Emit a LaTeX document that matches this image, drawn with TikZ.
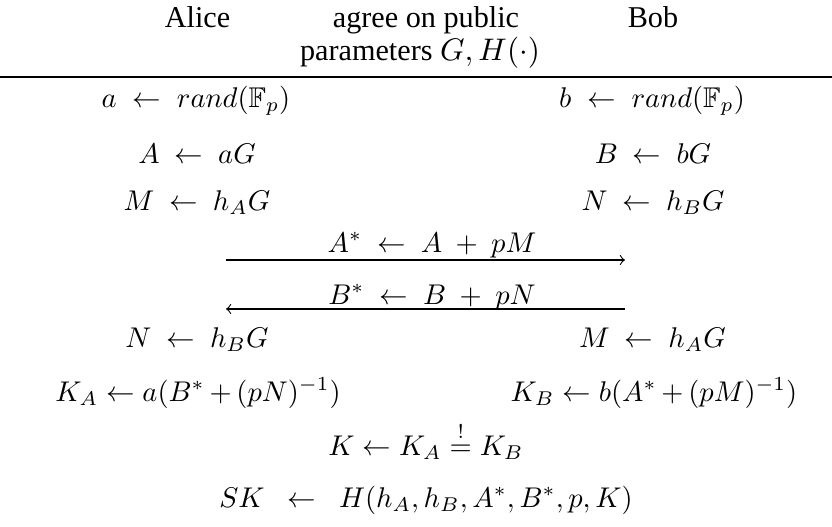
\documentclass[tikz,border=0pt]{standalone}
\usepackage{amsmath,amssymb}
\usepackage{fontspec}
\setmainfont{Liberation Serif}
\begin{document}
\begin{tikzpicture}[x=0.3509pt,y=-0.3509pt,
  lbl/.style={anchor=base,inner sep=0pt,outer sep=0pt},
  headtxt/.style={lbl,font=\fontsize{10.6pt}{12.7pt}\selectfont},
  msg/.style={line width=0.4pt,->},
  headrule/.style={line width=0.7pt}]
\useasboundingbox (0,0) rectangle (832,526);
% header
\node[headtxt] (alice) at (197.5,27) {Alice};
\node[headtxt] (bob) at (653,27) {Bob};
\node[headtxt] (agree) at (426,27) {agree on public};
\node[headtxt] (params) at (420,60) {parameters $G, H(\cdot)$};
\coordinate (rl) at (0,77);
\coordinate (rr) at (832,77);
\draw[headrule] (rl) -- (rr);
% Alice column
\node[lbl] (a1) at (196,107) {$a \;\leftarrow\; rand(\mathbb{F}_p)$};
\node[lbl] (a2) at (197,163) {$A \ \leftarrow\ aG$};
\node[lbl] (a3) at (197,210) {$M \ \leftarrow\ h_AG$};
\node[lbl] (a4) at (197,347) {$N \ \leftarrow\ h_BG$};
\node[lbl] (a5) at (198,401) {$K_A \leftarrow a(B^*\,{+}\,(pN)^{-1})$};
% Bob column
\node[lbl] (b1) at (652,107) {$b \;\leftarrow\; rand(\mathbb{F}_p)$};
\node[lbl] (b2) at (653,163) {$B \ \leftarrow\ bG$};
\node[lbl] (b3) at (653,210) {$N \ \leftarrow\ h_BG$};
\node[lbl] (b4) at (652.5,347) {$M \ \leftarrow\ h_AG$};
\node[lbl] (b5) at (654,401) {$K_B \leftarrow b(A^*\,{+}\,(pM)^{-1})$};
% messages
\coordinate (m1s) at (226,260);
\coordinate (m1e) at (625,260);
\coordinate (m2s) at (625,309);
\coordinate (m2e) at (226,309);
\node[lbl] (m1) at (432,252) {$A^* \ \leftarrow\ A \ +\ pM$};
\node[lbl] (m2) at (432,304) {$B^* \ \leftarrow\ B \ +\ pN$};
\draw[msg] (m1s) -- (m1e);
\draw[msg] (m2s) -- (m2e);
% shared
\node[lbl] (k) at (426,455) {$K \leftarrow K_A \stackrel{!}{=} K_B$};
\node[lbl] (sk) at (426,507) {$SK \;\ \leftarrow\ \; H(h_A, h_B, A^*, B^*, p, K)$};
\end{tikzpicture}
\end{document}
